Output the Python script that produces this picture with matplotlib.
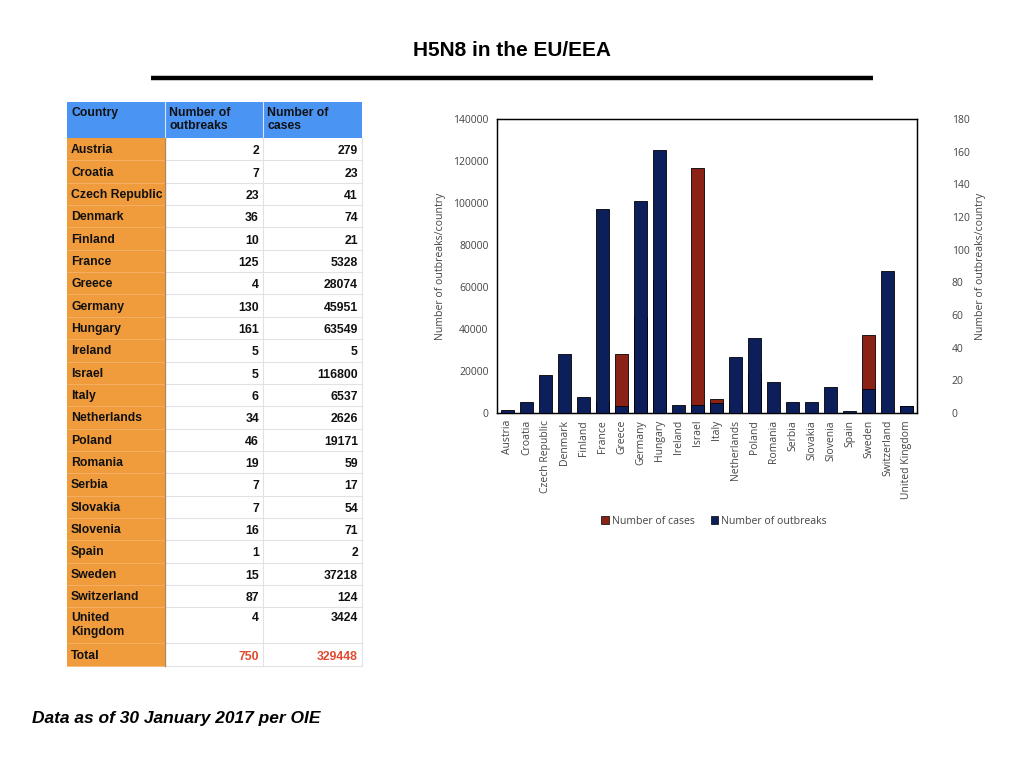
import matplotlib
matplotlib.use("Agg")
import matplotlib.pyplot as plt
from matplotlib.patches import Rectangle, Patch
import numpy as np

countries = ["Austria", "Croatia", "Czech Republic", "Denmark", "Finland", "France",
             "Greece", "Germany", "Hungary", "Ireland", "Israel", "Italy", "Netherlands",
             "Poland", "Romania", "Serbia", "Slovakia", "Slovenia", "Spain", "Sweden",
             "Switzerland", "United Kingdom"]
table_names = ["Austria", "Croatia", "Czech Republic", "Denmark", "Finland", "France",
               "Greece", "Germany", "Hungary", "Ireland", "Israel", "Italy", "Netherlands",
               "Poland", "Romania", "Serbia", "Slovakia", "Slovenia", "Spain", "Sweden",
               "Switzerland", "United\nKingdom"]
outbreaks = [2, 7, 23, 36, 10, 125, 4, 130, 161, 5, 5, 6, 34, 46, 19, 7, 7, 16, 1, 15, 87, 4]
cases = [279, 23, 41, 74, 21, 5328, 28074, 45951, 63549, 5, 116800, 6537, 2626, 19171,
         59, 17, 54, 71, 2, 37218, 124, 3424]
total_outbreaks = "750"
total_cases = "329448"

W, H = 1024, 768
fig = plt.figure(figsize=(W / 100, H / 100), dpi=100)
fig.patch.set_facecolor("white")

ov = fig.add_axes([0, 0, 1, 1])
ov.set_xlim(0, W)
ov.set_ylim(H, 0)
ov.axis("off")

# Title and rule
ov.text(512, 50, "H5N8 in the EU/EEA", ha="center", va="center", fontsize=15,
        fontweight="bold", family="Liberation Sans")
ov.plot([151, 873], [78, 78], color="black", lw=3.2, solid_capstyle="butt")

# Footer
ov.text(32, 719, "Data as of 30 January 2017 per OIE", ha="left", va="center",
        fontsize=12.5, fontweight="bold", style="italic", family="Liberation Sans")

# ---- Table ----
blue = "#4a94f4"
orange = "#f19c3c"
x0, x1, x2, x3 = 67, 165, 263, 362
hdr_top, hdr_bot = 102, 138
row_h = 22.35
tfont = dict(family="Liberation Sans", fontweight="bold", fontsize=8.8)

ov.add_patch(Rectangle((x0, hdr_top), x3 - x0, hdr_bot - hdr_top, facecolor=blue, edgecolor="none"))
for xx in (x1, x2):
    ov.plot([xx, xx], [hdr_top, hdr_bot], color="#d8e6fb", lw=0.8)
ov.text(x0 + 4, hdr_top + 5, "Country", ha="left", va="top", color="#111111", **tfont)
ov.text(x1 + 4, hdr_top + 5, "Number of\noutbreaks", ha="left", va="top", color="#111111",
        linespacing=1.15, **tfont)
ov.text(x2 + 4, hdr_top + 5, "Number of\ncases", ha="left", va="top", color="#111111",
        linespacing=1.15, **tfont)

rows = list(zip(table_names, [str(v) for v in outbreaks], [str(v) for v in cases]))
rows.append(("Total", total_outbreaks, total_cases))
y = hdr_bot
for i, (name, ob, cs) in enumerate(rows):
    h = row_h
    if "\n" in name:
        h = 36
    ov.add_patch(Rectangle((x0, y), x1 - x0, h, facecolor=orange, edgecolor="none"))
    ov.add_patch(Rectangle((x1, y), x3 - x1, h, facecolor="white", edgecolor="none"))
    ov.plot([x0, x1], [y + h, y + h], color="#f5b26a", lw=0.6)
    ov.plot([x1, x3], [y + h, y + h], color="#e2e2e2", lw=0.8)
    is_total = name == "Total"
    numcol = "#e04a30" if is_total else "#111111"
    if "\n" in name:
        ov.text(x0 + 4, y + 5, name, ha="left", va="top", color="#111111",
                linespacing=1.15, **tfont)
        ov.text(x2 - 4, y + 5, ob, ha="right", va="top", color=numcol, **tfont)
        ov.text(x3 - 4, y + 5, cs, ha="right", va="top", color=numcol, **tfont)
    else:
        cy = y + h / 2 + 1
        ov.text(x0 + 4, cy, name, ha="left", va="center", color="#111111", **tfont)
        ov.text(x2 - 4, cy + 1, ob, ha="right", va="center", color=numcol, **tfont)
        ov.text(x3 - 4, cy + 1, cs, ha="right", va="center", color=numcol, **tfont)
    y += h
tbl_bot = y
ov.plot([x1, x1], [hdr_bot, tbl_bot], color="#b08a60", lw=1.0)
ov.plot([x2, x2], [hdr_bot, tbl_bot], color="#e2e2e2", lw=0.8)
ov.plot([x3, x3], [hdr_bot, tbl_bot], color="#e2e2e2", lw=0.8)

# ---- Chart ----
navy = "#0c1f5a"
red = "#8a2216"
cfont = ["Open Sans", "DejaVu Sans"]
ax = fig.add_axes([497 / W, 1 - 413 / H, 420 / W, 294 / H])
ax2 = ax.twinx()
x = np.arange(len(countries))
bw = 0.64
ax.bar(x, cases, width=bw, color=red, edgecolor="black", linewidth=0.6, zorder=2)
ax2.bar(x, outbreaks, width=bw, color=navy, edgecolor="black", linewidth=0.6, zorder=3)
ax.set_xlim(-0.55, len(countries) - 0.45)
ax.set_ylim(0, 140000)
ax2.set_ylim(0, 180)
ax.set_yticks(np.arange(0, 140001, 20000))
ax2.set_yticks(np.arange(0, 181, 20))
ax.set_xticks(x)
ax.set_xticklabels(countries, rotation=90, fontsize=7.8, family=cfont, color="#333333")
for a in (ax, ax2):
    a.tick_params(axis="both", length=0, labelsize=7.5, colors="#444444")
    for s in a.spines.values():
        s.set_color("black")
        s.set_linewidth(0.9)
for lab in ax.get_yticklabels() + ax2.get_yticklabels():
    lab.set_family(cfont)
ax.tick_params(axis="y", pad=6)
ax2.tick_params(axis="y", pad=25)
ax.tick_params(axis="x", pad=5)
ax.set_ylabel("Number of outbreaks/country", fontsize=7.6, family=cfont, color="#444444", labelpad=5)
ax2.set_ylabel("Number of outbreaks/country", fontsize=7.6, family=cfont, color="#444444", labelpad=4)
ax.set_zorder(ax2.get_zorder() - 1)
ax2.patch.set_visible(False)

handles = [Patch(facecolor=red, edgecolor="black", linewidth=0.5, label="Number of cases"),
           Patch(facecolor=navy, edgecolor="black", linewidth=0.5, label="Number of outbreaks")]
fig.legend(handles=handles, loc="center", bbox_to_anchor=(714 / W, 1 - 521 / H), ncol=2,
           frameon=False, prop={"family": cfont, "size": 7.6}, handlelength=0.7,
           handleheight=0.7, handletextpad=0.3, columnspacing=1.5, labelcolor="#444444")

fig.savefig("out.png", dpi=100, facecolor="white")
